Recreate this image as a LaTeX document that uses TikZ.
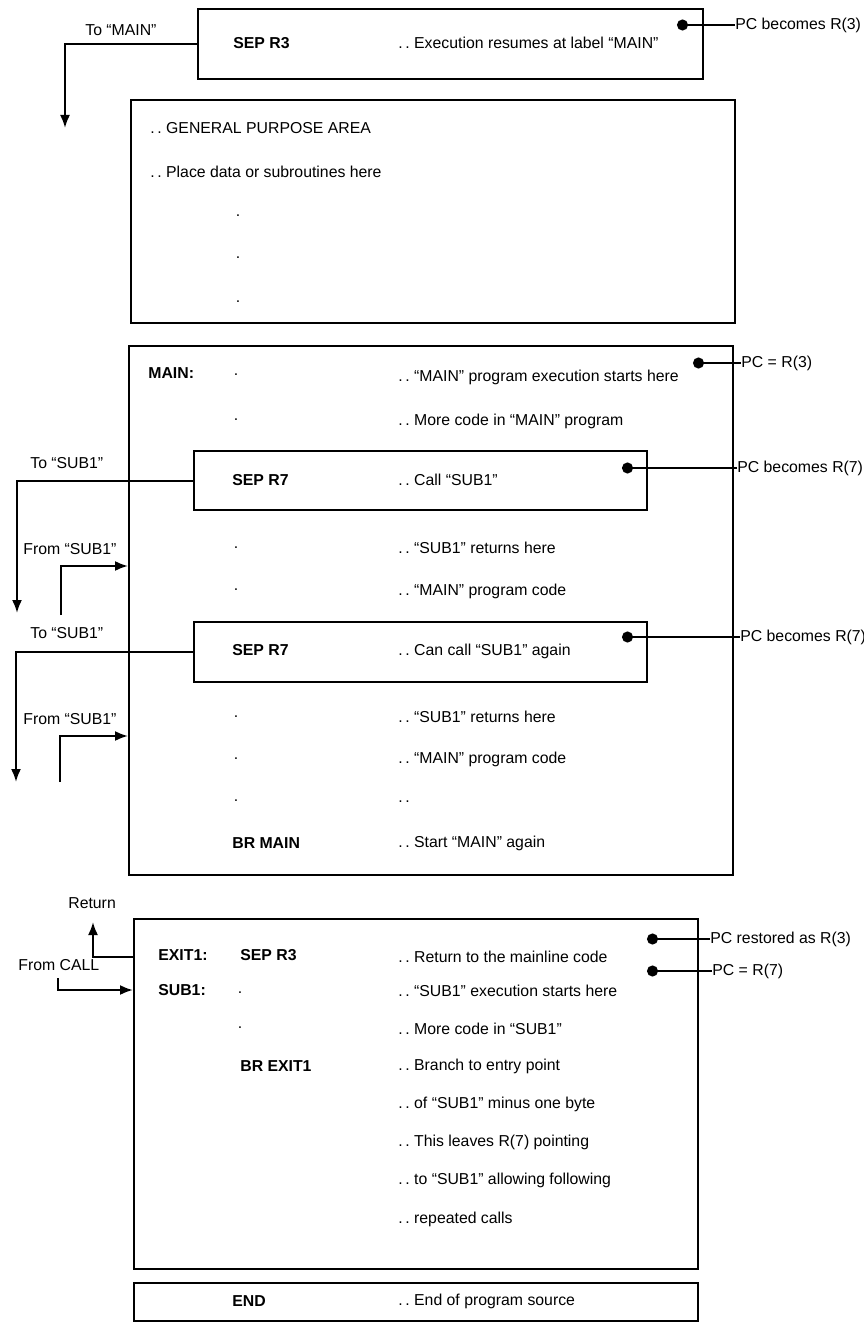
\documentclass[tikz,border=0pt]{standalone}
\usepackage{fontspec}
\setmainfont{Liberation Sans}
\usetikzlibrary{arrows.meta}
\newdimen\px \px=0.02cm

\begin{document}
\begin{tikzpicture}[x=0.02cm, y=-0.02cm,
      every node/.style={font=\fontsize{9}{11}\selectfont, inner sep=0pt},
      box/.style={draw, line width=1.2pt, anchor=north west},
      code/.style={anchor=west, font=\fontsize{9}{11}\selectfont\bfseries},
      note/.style={anchor=west},
      arr/.style={-{Latex[length=2.6mm,width=2mm]}, line width=1.2pt},
      pin/.style={{Circle[length=2.2mm]}-, line width=1pt}
    ]
      \useasboundingbox (0,0) rectangle (864,1334);

      % top: return to MAIN
      \node[box, minimum width=505\px, minimum height=70\px] (exec) at (197,8) {};
      \node[code] (sepA) at (233,43) {SEP R3};
      \node[note] (resume) at (398,43) {.\,.\ Execution resumes at label “MAIN”};
      \coordinate (dotA) at (677,25);
      \node[note] (pcA) at (735,25) {PC becomes R(3)};
      \node[note] (toMain) at (85,30) {To “MAIN”};
      \coordinate (downA) at (65,128);

      % general purpose area
      \node[box, minimum width=604\px, minimum height=223\px] (gpa) at (130,99) {};
      \node[note] (gpaA) at (150,128) {.\,.\ GENERAL PURPOSE AREA};
      \node[note] (gpaB) at (150,172) {.\,.\ Place data or subroutines here};
      \node (gd1) at (238,216) {.};
      \node (gd2) at (238,258) {.};
      \node (gd3) at (238,302) {.};

      % MAIN program
      \node[box, minimum width=604\px, minimum height=529\px] (main) at (128,345) {};
      \node[code] (mainLbl) at (148,373) {MAIN:};
      \node (md1) at (236,375) {.};
      \node[note] (mc1) at (398,377) {.\,.\ “MAIN” program execution starts here};
      \coordinate (dotB) at (693,363);
      \node[note] (pcB) at (741,363) {PC = R(3)};
      \node (md2) at (236,420) {.};
      \node[note] (mc2) at (398,421) {.\,.\ More code in “MAIN” program};

      \node[box, minimum width=453\px, minimum height=59\px] (callA) at (193,450) {};
      \node[code] (sepB) at (232,480) {SEP R7};
      \node[note] (mc3) at (398,480) {.\,.\ Call “SUB1”};
      \coordinate (dotC) at (622,468);
      \node[note] (pcC) at (737,468) {PC becomes R(7)};
      \node[note] (toSubA) at (30,463) {To “SUB1”};
      \coordinate (downB) at (17,613);
      \node[note] (fromSubA) at (23,549) {From “SUB1”};
      \coordinate (upA) at (61,615);
      \coordinate (backA) at (128,566);

      \node (md3) at (236,548) {.};
      \node[note] (mc4) at (398,548) {.\,.\ “SUB1” returns here};
      \node (md4) at (236,590) {.};
      \node[note] (mc5) at (398,591) {.\,.\ “MAIN” program code};

      \node[box, minimum width=453\px, minimum height=60\px] (callB) at (193,621) {};
      \node[code] (sepC) at (232,650) {SEP R7};
      \node[note] (mc6) at (398,651) {.\,.\ Can call “SUB1” again};
      \coordinate (dotD) at (622,637);
      \node[note] (pcD) at (740,637) {PC becomes R(7)};
      \node[note] (toSubB) at (30,633) {To “SUB1”};
      \coordinate (downC) at (16,782);
      \node[note] (fromSubB) at (23,719) {From “SUB1”};
      \coordinate (upB) at (60,782);
      \coordinate (backB) at (128,736);

      \node (md5) at (236,717) {.};
      \node[note] (mc7) at (398,717) {.\,.\ “SUB1” returns here};
      \node (md6) at (236,759) {.};
      \node[note] (mc8) at (398,759) {.\,.\ “MAIN” program code};
      \node (md7) at (236,801) {.};
      \node[note] (mc9) at (398,802) {.\,.};
      \node[code] (brMain) at (232,843) {BR MAIN};
      \node[note] (mc10) at (398,843) {.\,.\ Start “MAIN” again};

      % subroutine SUB1
      \node[box, minimum width=564\px, minimum height=350\px] (sub) at (133,918) {};
      \node[code] (exitLbl) at (158,955) {EXIT1:};
      \node[code] (sepD) at (240,955) {SEP R3};
      \node[note] (sc1) at (398,957) {.\,.\ Return to the mainline code};
      \coordinate (dotE) at (647,939);
      \node[note] (pcE) at (710,939) {PC restored as R(3)};
      \node[code] (subLbl) at (158,990) {SUB1:};
      \node (sd1) at (240,993) {.};
      \node[note] (sc2) at (398,991) {.\,.\ “SUB1” execution starts here};
      \coordinate (dotF) at (647,971);
      \node[note] (pcF) at (712,971) {PC = R(7)};
      \node (sd2) at (240,1028) {.};
      \node[note] (sc3) at (398,1029) {.\,.\ More code in “SUB1”};
      \node[code] (brExit) at (240,1066) {BR EXIT1};
      \node[note] (sc4) at (398,1066) {.\,.\ Branch to entry point};
      \node[note] (sc5) at (398,1104) {.\,.\ of “SUB1” minus one byte};
      \node[note] (sc6) at (398,1142) {.\,.\ This leaves R(7) pointing};
      \node[note] (sc7) at (398,1180) {.\,.\ to “SUB1” allowing following};
      \node[note] (sc8) at (398,1219) {.\,.\ repeated calls};

      \node[note] (retLbl) at (68,903) {Return};
      \coordinate (exitA) at (133,957);
      \coordinate (upC) at (93,922);
      \node[note] (callLbl) at (18,965) {From CALL};
      \coordinate (fromCall) at (58,978);
      \coordinate (entryA) at (133,990);

      % end of source
      \node[box, minimum width=564\px, minimum height=38\px] (endBox) at (133,1282) {};
      \node[code] (endLbl) at (232,1301) {END};
      \node[note] (ec1) at (398,1301) {.\,.\ End of program source};

      % connectors
      \draw[arr] (exec.west) -| (downA);
      \draw[arr] (callA.west) -| (downB);
      \draw[arr] (upA) |- (backA);
      \draw[arr] (callB.west) -| (downC);
      \draw[arr] (upB) |- (backB);
      \draw[arr] (exitA) -| (upC);
      \draw[arr] (fromCall) |- (entryA);

      \draw[pin] (dotA) -- (pcA.west);
      \draw[pin] (dotB) -- (pcB.west);
      \draw[pin] (dotC) -- (pcC.west);
      \draw[pin] (dotD) -- (pcD.west);
      \draw[pin] (dotE) -- (pcE.west);
      \draw[pin] (dotF) -- (pcF.west);
    \end{tikzpicture}
\end{document}
